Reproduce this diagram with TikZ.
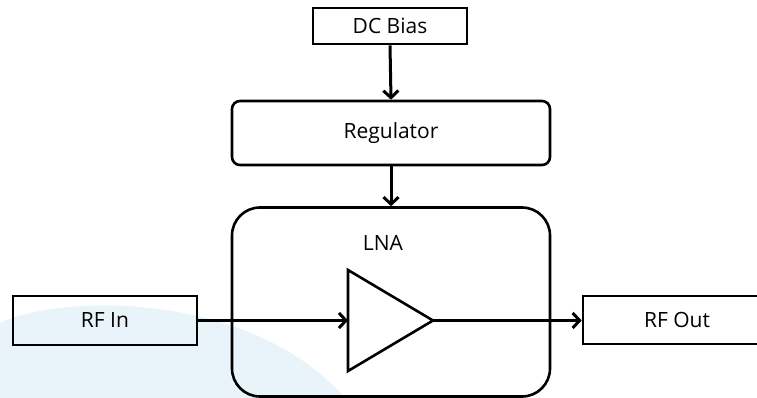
\documentclass[tikz,border=0pt]{standalone}
\usepackage{fontspec}
\setmainfont{Open Sans}
\usetikzlibrary{arrows.meta}
\definecolor{bgblue}{RGB}{233,243,250}
\tikzset{
  blk/.style={draw=black, line width=2.6pt, inner sep=0pt, font=\fontsize{21}{24}\selectfont},
  conn/.style={-{Straight Barb[length=7pt,width=15pt]}, line width=3pt},
}
\begin{document}
\begin{tikzpicture}[x=1pt,y=-1pt]
\useasboundingbox (0,0) rectangle (757,398);
\fill[bgblue] (0,398) -- (0,323) .. controls (60,294) and (250,290) .. (345,398) -- cycle;
\node[blk, minimum width=154pt, minimum height=36pt] (dc) at (390,26) {DC Bias};
\node[blk, rounded corners=8pt, minimum width=318pt, minimum height=64pt] (reg) at (391,133) {Regulator};
\node[blk, rounded corners=28pt, minimum width=318pt, minimum height=189pt] (lna) at (391,302) {};
\node[font=\fontsize{21}{24}\selectfont] (lnalabel) at (383,243) {LNA};
\node[blk, minimum width=184pt, minimum height=49pt] (rfin) at (105,320.5) {RF In};
\node[blk, minimum width=188pt, minimum height=48pt] (rfout) at (677,320) {RF Out};
\coordinate (ampin) at (348,320.5);
\coordinate (amptip) at (433,320.5);
\draw[line width=2.6pt, line join=miter] (348,270) -- (amptip) -- (348,371) -- cycle;
\draw[conn] (dc.south) -- (reg.north);
\draw[conn] (reg.south) -- (lna.north);
\draw[conn] (rfin.east) -- (ampin);
\draw[conn] (amptip) -- (rfout.west |- amptip);
\end{tikzpicture}
\end{document}
